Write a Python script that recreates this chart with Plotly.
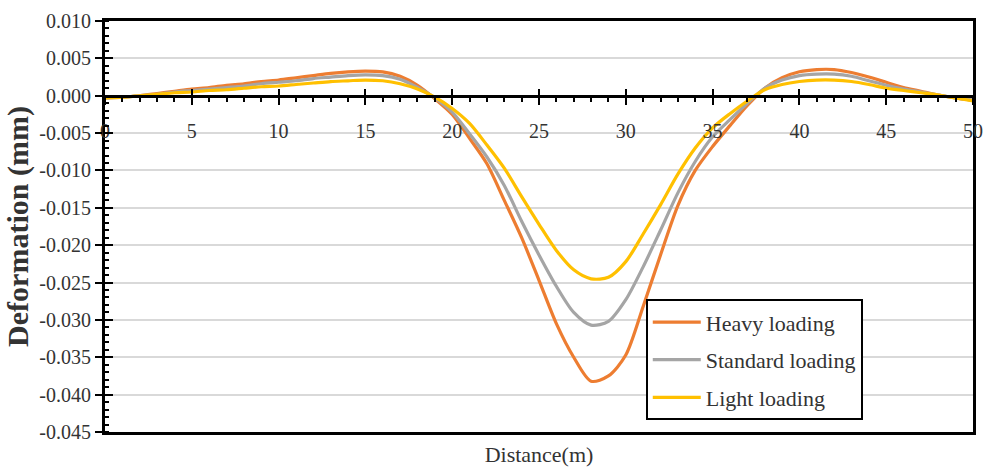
import plotly.graph_objects as go

# ---- data ----
distance = list(range(0, 51))

heavy = [-0.0003, -0.0002, 0.0000, 0.0003, 0.0006, 0.0009, 0.0011, 0.0014, 0.0016, 0.0019,
         0.0021, 0.0024, 0.0027, 0.0030, 0.0032, 0.0033, 0.0032, 0.0026, 0.0014, -0.0004,
         -0.0025, -0.0057, -0.0091, -0.0140, -0.0190, -0.0247, -0.0305, -0.0350, -0.0382, -0.0375,
         -0.0347, -0.0282, -0.0213, -0.0147, -0.0100, -0.0068, -0.0040, -0.0013, 0.0010, 0.0024,
         0.0032, 0.0035, 0.0035, 0.0031, 0.0025, 0.0018, 0.0011, 0.0006, 0.0001, -0.0003,
         -0.0006]

standard = [-0.0003, -0.0002, 0.0000, 0.0002, 0.0005, 0.0007, 0.0009, 0.0011, 0.0013, 0.0016,
            0.0018, 0.0020, 0.0023, 0.0025, 0.0027, 0.0028, 0.0027, 0.0022, 0.0011, -0.0003,
            -0.0022, -0.0051, -0.0082, -0.0120, -0.0168, -0.0213, -0.0255, -0.0290, -0.0307, -0.0302,
            -0.0273, -0.0229, -0.0180, -0.0130, -0.0088, -0.0055, -0.0032, -0.0010, 0.0010, 0.0021,
            0.0027, 0.0029, 0.0029, 0.0026, 0.0020, 0.0014, 0.0009, 0.0005, 0.0001, -0.0003,
            -0.0006]

light = [-0.0003, -0.0002, 0.0000, 0.0002, 0.0004, 0.0005, 0.0007, 0.0008, 0.0010, 0.0012,
         0.0013, 0.0015, 0.0017, 0.0019, 0.0020, 0.0021, 0.0020, 0.0016, 0.0009, -0.0002,
         -0.0017, -0.0037, -0.0066, -0.0097, -0.0135, -0.0172, -0.0207, -0.0233, -0.0245, -0.0243,
         -0.0222, -0.0185, -0.0146, -0.0105, -0.0070, -0.0043, -0.0024, -0.0007, 0.0008, 0.0015,
         0.0019, 0.0021, 0.0021, 0.0019, 0.0015, 0.0010, 0.0007, 0.0004, 0.0001, -0.0003,
         -0.0007]

series_names = ["Heavy loading", "Standard loading", "Light loading"]
series_colors = ["#ED7D31", "#A5A5A5", "#FFC000"]

x_tick_labels = ["0", "5", "10", "15", "20", "25", "30", "35", "40", "45", "50"]
y_tick_labels = ["0.010", "0.005", "0.000", "-0.005", "-0.010", "-0.015", "-0.020",
                 "-0.025", "-0.030", "-0.035", "-0.040", "-0.045"]

x_range = [0, 50]
y_range = [-0.045, 0.010]

x_tickvals = [float(s) for s in x_tick_labels]
y_tickvals = [float(s) for s in y_tick_labels]

FONT = "Liberation Serif, Times New Roman, serif"
TXT = "#333333"

fig = go.Figure()
for name, vals, col in zip(series_names, [heavy, standard, light], series_colors):
    fig.add_trace(go.Scatter(
        x=distance, y=vals, name=name, mode="lines",
        line=dict(color=col, width=3.2, shape="spline", smoothing=0.8),
        legendgroup=name,
    ))

# empty helper traces so that the frame / crossing-tick axes get rendered
fig.add_trace(go.Scatter(x=[], y=[], xaxis="x2", yaxis="y", showlegend=False, hoverinfo="skip"))
fig.add_trace(go.Scatter(x=[], y=[], xaxis="x3", yaxis="y2", showlegend=False, hoverinfo="skip"))

zero_pos = (0 - y_range[0]) / (y_range[1] - y_range[0])

fig.update_layout(
    width=993, height=470,
    margin=dict(l=105, r=10, t=20, b=38),
    paper_bgcolor="white", plot_bgcolor="white",
    font=dict(family=FONT, color=TXT, size=20),
    xaxis=dict(
        range=x_range, anchor="free", position=zero_pos,
        showline=True, linecolor="black", linewidth=3,
        ticks="outside", ticklen=7, tickwidth=2, tickcolor="black",
        tickvals=x_tickvals, ticktext=x_tick_labels,
        tickfont=dict(family=FONT, size=20, color=TXT),
        ticklabelstandoff=9,
        minor=dict(ticks="outside", dtick=1, ticklen=4, tickwidth=2, tickcolor="black"),
        showgrid=False, zeroline=False,
    ),
    xaxis3=dict(
        range=x_range, overlaying="x", anchor="free", position=zero_pos,
        ticks="inside", ticklen=7, tickwidth=2, tickcolor="black",
        tickvals=x_tickvals, showticklabels=False,
        showgrid=False, showline=False, zeroline=False,
    ),
    xaxis2=dict(
        range=x_range, overlaying="x", anchor="y", side="bottom",
        showline=True, mirror=True, linecolor="black", linewidth=3,
        ticks="", showticklabels=False, showgrid=False, zeroline=False,
        title=dict(text="Distance(m)", font=dict(family=FONT, size=22, color=TXT), standoff=13),
    ),
    yaxis=dict(
        range=y_range,
        tickvals=y_tickvals, ticktext=y_tick_labels,
        tickfont=dict(family=FONT, size=20, color=TXT),
        ticks="outside", ticklen=7, tickwidth=2, tickcolor="black",
        minor=dict(ticks="inside", dtick=0.001, ticklen=4, tickwidth=2, tickcolor="black", showgrid=False),
        showgrid=True, gridcolor="#D9D9D9", gridwidth=2,
        showline=True, mirror=True, linecolor="black", linewidth=3,
        zeroline=False,
        title=dict(text="<b>Deformation (mm)</b>", font=dict(family=FONT, size=30, color=TXT), standoff=2),
    ),
    yaxis2=dict(
        range=y_range, overlaying="y", anchor="free", position=0, side="left",
        ticks="inside", ticklen=7, tickwidth=2, tickcolor="black",
        tickvals=y_tickvals, showticklabels=False,
        showgrid=False, showline=False, zeroline=False,
    ),
    legend=dict(
        x=(652 - 105) / 878, y=(432 - 299) / 412, xanchor="left", yanchor="top",
        bgcolor="white", bordercolor="black", borderwidth=2,
        font=dict(family=FONT, size=22, color=TXT),
        traceorder="grouped", tracegroupgap=6, itemwidth=48,
    ),
    showlegend=True,
)

fig.write_html("out.html")
